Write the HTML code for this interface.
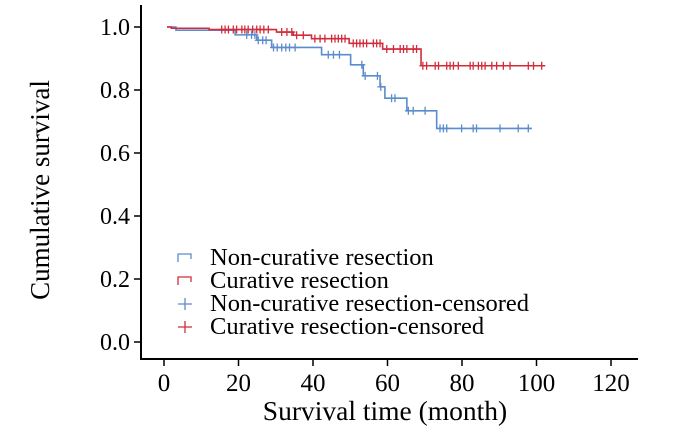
<!DOCTYPE html>
<html><head><meta charset="utf-8"><style>
body{margin:0;background:#fff;}
svg{display:block;font-family:"Liberation Serif",serif;}
</style></head><body>
<svg id="c" width="700" height="435" viewBox="0 0 700 435"></svg>
<script>
const xTicks=[0,20,40,60,80,100,120];
const yTicks=[0.0,0.2,0.4,0.6,0.8,1.0];
const yTickLabels=["0.0","0.2","0.4","0.6","0.8","1.0"];
const nonCurTimes=[0.8,3.2,19.1,24.9,28.9,42.3,50.1,53.5,58.0,59.3,65.2,73.2,98.7];
const nonCurSurv=[1.0,0.99,0.975,0.958,0.935,0.912,0.880,0.845,0.810,0.774,0.734,0.678,0.678];
const curTimes=[0.8,2.0,12.1,30.2,34.7,39.6,49.7,58.7,69.0,102.3];
const curSurv=[1.0,0.996,0.992,0.984,0.974,0.963,0.948,0.930,0.877,0.877];
const nonCurCens=[22.2,23.5,24.4,25.3,26.5,27.4,29.4,30.4,31.6,32.7,33.7,35.2,44.1,45.5,47.1,53.1,54.0,57.3,58.2,61.1,62.0,65.6,66.9,70.1,74.1,75.0,75.9,79.9,83.0,83.9,90.2,95.1,97.8];
const curCens=[15.5,16.4,17.3,18.6,19.5,20.9,21.7,22.6,23.8,24.9,25.8,26.8,28.0,31.6,33.0,34.3,35.6,37.4,40.5,41.9,43.2,45.0,45.9,46.8,47.7,48.6,50.8,51.7,52.6,53.5,54.4,56.2,57.1,58.0,59.8,61.6,63.4,64.3,65.2,66.9,67.8,69.5,70.5,72.8,73.7,75.9,76.8,77.7,79.0,82.2,83.0,84.4,85.3,86.2,88.0,89.3,91.1,92.9,97.8,99.2,101.4];

const NS="http://www.w3.org/2000/svg";
const svg=document.getElementById('c');
const X=t=>164+t*(611-164)/120;
const Y=v=>342-v*315;
function mk(tag,attrs,parent){const e=document.createElementNS(NS,tag);for(const k in attrs)e.setAttribute(k,attrs[k]);(parent||svg).appendChild(e);return e;}
function txt(s,attrs,name){const e=mk('text',attrs);e.textContent=s;


return e;}

const ax=mk('path',{d:`M141 5 V359 H638`,fill:'none',stroke:'#000','stroke-width':2});


xTicks.forEach(t=>{
  const l=mk('line',{x1:X(t),x2:X(t),y1:359,y2:366,stroke:'#000','stroke-width':1.5});
  
  
  txt(String(t),{x:X(t),y:391,'text-anchor':'middle','font-size':25},'x-tick-label');
});
yTicks.forEach((v,i)=>{
  const l=mk('line',{x1:134,x2:141,y1:Y(v),y2:Y(v),stroke:'#000','stroke-width':1.5});
  
  
  txt(yTickLabels[i],{x:130,y:Y(v)+8,'text-anchor':'end','font-size':24},'y-tick-label');
});
txt('Survival time (month)',{x:385,y:420,'text-anchor':'middle','font-size':27.5},'x-axis-title');
txt('Cumulative survival',{x:0,y:0,'text-anchor':'middle','font-size':27,transform:'translate(49 190) rotate(-90)'},'y-axis-title');

function stepPath(ts,ss){let d=`M${X(ts[0])} ${Y(ss[0])}`;for(let i=1;i<ts.length;i++){d+=` H${X(ts[i])} V${Y(ss[i])}`;}return d;}
function survAt(ts,ss,t){let v=ss[0];for(let i=0;i<ts.length;i++){if(ts[i]<=t)v=ss[i];}return v;}
function series(ts,ss,cens,color,name){
  const p=mk('path',{d:stepPath(ts,ss),fill:'none',stroke:color,'stroke-width':1.6});
  
  
  cens.forEach(t=>{
    const x=X(t),y=Y(survAt(ts,ss,t));
    const c=mk('path',{d:`M${x} ${y-4} V${y+4} M${x-3.5} ${y} H${x+3.5}`,stroke:color,'stroke-width':1.3});
    
    
  });
}
series(nonCurTimes,nonCurSurv,nonCurCens,'#5b8ccc','non-curative');
series(curTimes,curSurv,curCens,'#d22c3c','curative');

const leg=[["Non-curative resection",'#5b8ccc','step'],["Curative resection",'#d22c3c','step'],["Non-curative resection-censored",'#5b8ccc','plus'],["Curative resection-censored",'#d22c3c','plus']];
leg.forEach((L,i)=>{
  const y=258+i*23;
  let d;
  if(L[2]==='step') d=`M178 ${y+4} V${y-4} H191 V${y+1}`;
  else d=`M185 ${y-6} V${y+6} M178 ${y} H192`;
  const ic=mk('path',{d,fill:'none',stroke:L[1],'stroke-width':1.3});
  
  
  txt(L[0],{x:210,y:y+7,'font-size':24.5},'legend-entry');
});
</script>
</body></html>
